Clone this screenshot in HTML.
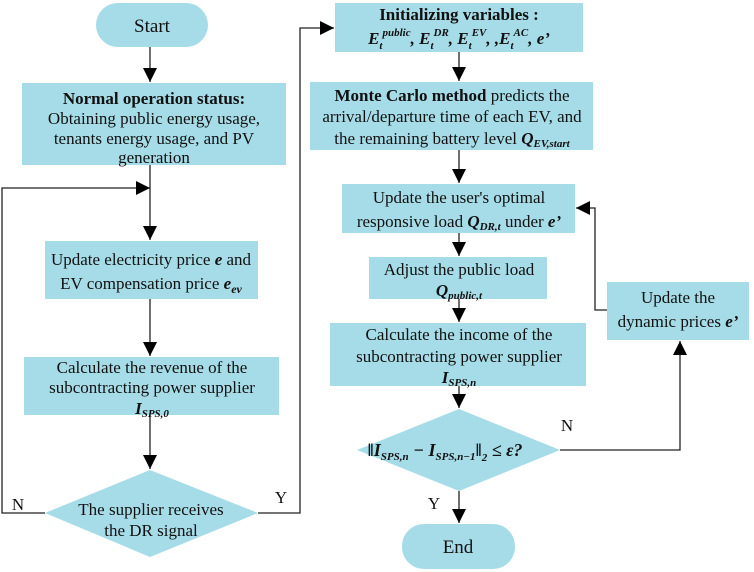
<!DOCTYPE html>
<html><head><meta charset="utf-8"><style>
html,body{margin:0;padding:0;background:#fff;}
svg{display:block;}
text{font-family:"Liberation Serif",serif;font-size:17px;fill:#111;}
.b{font-weight:bold;}
.bi{font-weight:bold;font-style:italic;}
</style></head><body>
<svg width="754" height="572" viewBox="0 0 754 572" xmlns="http://www.w3.org/2000/svg">
<defs><marker id="a" markerWidth="10" markerHeight="10" refX="9" refY="5" orient="auto" markerUnits="userSpaceOnUse"><path d="M0,0 L10,5 L0,10 z" fill="#000"/></marker>
<marker id="d" markerWidth="16" markerHeight="16" refX="14" refY="7" orient="auto" markerUnits="userSpaceOnUse"><path d="M0,0 L14,7 L0,14 z" fill="#000"/></marker></defs>
<g fill="#a6dce8">
<rect x="96" y="3" width="112" height="44" rx="22"/>
<rect x="22" y="83" width="264" height="82"/>
<rect x="45" y="241" width="213" height="58"/>
<rect x="24" y="357" width="255" height="58"/>
<polygon points="150,470 258,513 150,557 45,513"/>
<rect x="335" y="3" width="248" height="49"/>
<rect x="310" y="82" width="283" height="68"/>
<rect x="342" y="184" width="233" height="49"/>
<rect x="369" y="257" width="178" height="42"/>
<rect x="330" y="323" width="256" height="63"/>
<polygon points="459,409 560,450 459,491 357,450"/>
<rect x="402" y="524" width="113" height="45" rx="22"/>
<rect x="607" y="282" width="142" height="58"/>
</g>
<g stroke="#222" stroke-width="1.3" fill="none">
<line x1="150" y1="47" x2="150" y2="82" marker-end="url(#d)"/>
<line x1="150" y1="165" x2="150" y2="240" marker-end="url(#d)"/>
<polyline points="45,513 2,513 2,188 150,188" marker-end="url(#d)"/>
<line x1="150" y1="299" x2="150" y2="356" marker-end="url(#d)"/>
<line x1="150" y1="415" x2="150" y2="469" marker-end="url(#d)"/>
<polyline points="258,513 300,513 300,28 334,28" marker-end="url(#d)"/>
<line x1="459" y1="52" x2="459" y2="81" marker-end="url(#d)"/>
<line x1="459" y1="150" x2="459" y2="183" marker-end="url(#d)"/>
<line x1="459" y1="233" x2="459" y2="256" marker-end="url(#d)"/>
<line x1="459" y1="299" x2="459" y2="322" marker-end="url(#d)"/>
<line x1="459" y1="386" x2="459" y2="408" marker-end="url(#d)"/>
<line x1="459" y1="491" x2="459" y2="523" marker-end="url(#d)"/>
<polyline points="560,450 680,450 680,341" marker-end="url(#d)"/>
<polyline points="607,310 595,310 595,208 576,208" marker-end="url(#d)"/>
</g>
<g text-anchor="middle">
<text x="152" y="32" style="font-size:19px">Start</text>
<text x="154" y="104" class="b">Normal operation status:</text>
<text x="154" y="124">Obtaining public energy usage,</text>
<text x="154" y="144">tenants energy usage, and PV</text>
<text x="154" y="163">generation</text>
<text x="151" y="265">Update electricity price <tspan class="bi">e</tspan> and</text>
<text x="151" y="289">EV compensation price <tspan class="bi">e<tspan dy="4" style="font-size:12px">ev</tspan></tspan></text>
<text x="152" y="373">Calculate the revenue of the</text>
<text x="152" y="393">subcontracting power supplier</text>
<text x="152" y="414" class="bi">I<tspan dy="3" style="font-size:11px">SPS,0</tspan></text>
<text x="151" y="515">The supplier receives</text>
<text x="151" y="536">the DR signal</text>
<text x="459" y="20" class="b">Initializing variables :</text>
<text x="459" y="44" class="bi">E<tspan dy="5" style="font-size:11px">t</tspan><tspan dy="-13" style="font-size:11px">public</tspan><tspan dy="8">,  E</tspan><tspan dy="5" style="font-size:11px">t</tspan><tspan dy="-13" style="font-size:11px">DR</tspan><tspan dy="8">,  E</tspan><tspan dy="5" style="font-size:11px">t</tspan><tspan dy="-13" style="font-size:11px">EV</tspan><tspan dy="8">,  ,E</tspan><tspan dy="5" style="font-size:11px">t</tspan><tspan dy="-13" style="font-size:11px">AC</tspan><tspan dy="8">,  e’</tspan></text>
<text x="452" y="101"><tspan class="b">Monte Carlo method</tspan> predicts the</text>
<text x="452" y="122">arrival/departure time of each EV, and</text>
<text x="452" y="144">the remaining battery level <tspan class="bi">Q<tspan dy="3" style="font-size:11px">EV,start</tspan></tspan></text>
<text x="459" y="203">Update the user's optimal</text>
<text x="459" y="227">responsive load <tspan class="bi">Q<tspan dy="3" style="font-size:11px">DR,t</tspan></tspan><tspan dy="-3"> under </tspan><tspan class="bi">e’</tspan></text>
<text x="459" y="275">Adjust the public load</text>
<text x="459" y="296" class="bi">Q<tspan dy="3" style="font-size:11px">public,t</tspan></text>
<text x="459" y="340">Calculate the income of the</text>
<text x="459" y="362">subcontracting power supplier</text>
<text x="459" y="383" class="bi">I<tspan dy="3" style="font-size:11px">SPS,n</tspan></text>
<text x="445" y="456" class="bi" style="font-size:18px">‖I<tspan dy="4" style="font-size:11px">SPS,n</tspan><tspan dy="-4"> − I</tspan><tspan dy="4" style="font-size:11px">SPS,n−1</tspan><tspan dy="-4">‖</tspan><tspan dy="5" style="font-size:11px">2</tspan><tspan dy="-5"> ≤ ε?</tspan></text>
<text x="458" y="553" style="font-size:19px">End</text>
<text x="678" y="303">Update the</text>
<text x="678" y="327">dynamic prices <tspan class="bi">e’</tspan></text>
<text x="18" y="510">N</text>
<text x="281" y="503">Y</text>
<text x="567" y="431">N</text>
<text x="434" y="509">Y</text>
</g>
</svg>
</body></html>
